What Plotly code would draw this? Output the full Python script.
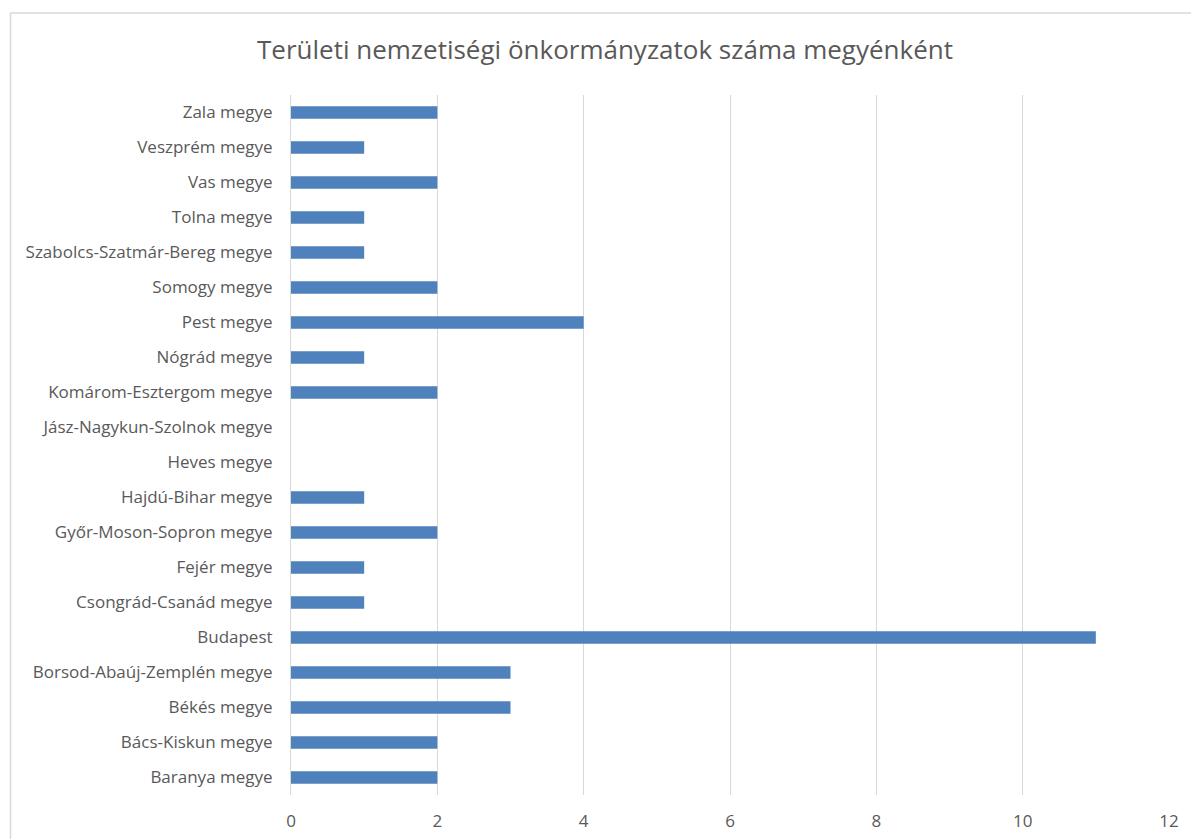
import plotly.graph_objects as go

categories = [
    "Baranya megye", "Bács-Kiskun megye", "Békés megye", "Borsod-Abaúj-Zemplén megye",
    "Budapest", "Csongrád-Csanád megye", "Fejér megye", "Győr-Moson-Sopron megye",
    "Hajdú-Bihar megye", "Heves megye", "Jász-Nagykun-Szolnok megye", "Komárom-Esztergom megye",
    "Nógrád megye", "Pest megye", "Somogy megye", "Szabolcs-Szatmár-Bereg megye",
    "Tolna megye", "Vas megye", "Veszprém megye", "Zala megye",
]
values = [2, 2, 3, 3, 11, 1, 1, 2, 1, 0, 0, 2, 1, 4, 2, 1, 1, 2, 1, 2]
x_ticks = [0, 2, 4, 6, 8, 10, 12]

title_text = "Területi nemzetiségi önkormányzatok száma megyénként"

W, H = 1191, 839
ml, mr, mt, mb = 291, 22, 95, 44
pw = W - ml - mr
ph = H - mt - mb

def px_x(p):
    return (p - ml) / pw

def px_y(p):
    return (H - mb - p) / ph

fig = go.Figure(go.Bar(
    y=categories, x=values, orientation="h",
    marker=dict(color="#4F81BD", line=dict(width=0)),
    width=0.36,
))

fig.update_layout(
    width=W, height=H,
    margin=dict(l=ml, r=mr, t=mt, b=mb, autoexpand=False),
    paper_bgcolor="white", plot_bgcolor="white",
    font=dict(family="Open Sans, Noto Sans, sans-serif", color="#595959", size=17),
    title=dict(text=title_text, x=605 / W, xanchor="center", xref="container",
               y=1 - 50 / H, yanchor="middle", yref="container",
               font=dict(size=26, color="#595959"), automargin=False),
    showlegend=False,
    xaxis=dict(range=[0, 12], tickvals=x_ticks, showgrid=True, gridcolor="#D9D9D9",
               gridwidth=1, zeroline=False, showline=False, ticks="",
               ticklabelstandoff=14, automargin=False,
               tickfont=dict(size=17, color="#595959"), fixedrange=True),
    yaxis=dict(categoryorder="array", categoryarray=categories, showgrid=False,
               showline=True, linecolor="#D9D9D9", linewidth=1, ticks="",
               ticklabelstandoff=14, zeroline=False, automargin=False,
               range=[-0.5, len(categories) - 0.5],
               tickfont=dict(size=17, color="#595959"), fixedrange=True),
    shapes=[dict(type="rect", xref="paper", yref="paper",
                 x0=px_x(10.5), x1=px_x(1210), y0=px_y(860), y1=px_y(13),
                 line=dict(color="#D9D9D9", width=1.5), fillcolor="rgba(0,0,0,0)",
                 layer="below")],
)

fig.write_html(
    "out.html",
    config={"displayModeBar": False},
    post_script="document.body.style.margin='0';document.body.style.overflow='hidden';",
)
